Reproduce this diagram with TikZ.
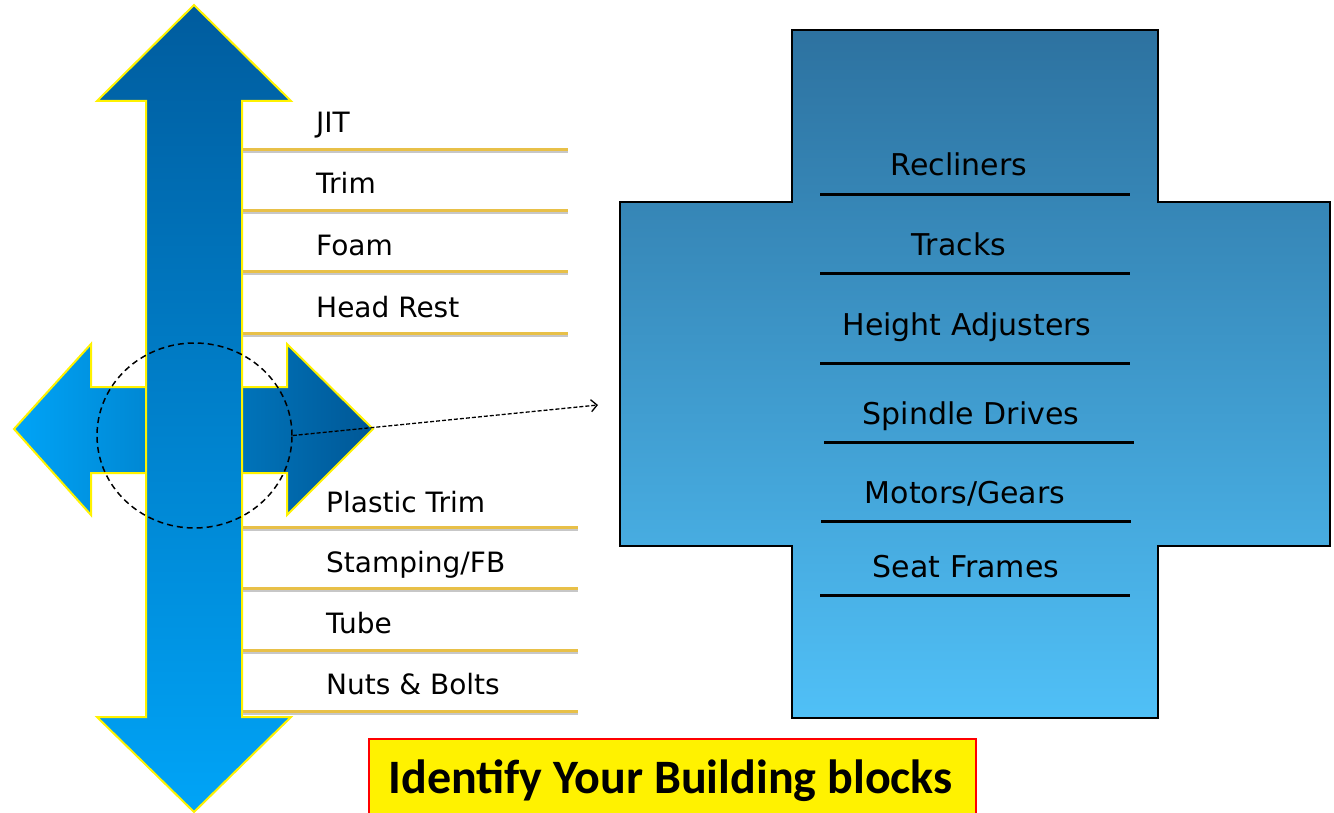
\documentclass[tikz,border=0pt]{standalone}
\usepackage{fontspec}
\setmainfont{DejaVu Sans}
\newfontfamily\titlefont{Carlito}
\usetikzlibrary{arrows.meta,shapes.geometric}

\definecolor{arrowdark}{RGB}{0,92,158}
\definecolor{arrowlight}{RGB}{0,164,247}
\definecolor{crossdark}{RGB}{45,114,160}
\definecolor{crosslight}{RGB}{80,192,247}
\definecolor{rulegold}{RGB}{232,192,72}

\tikzset{
  part/.style={anchor=base west, inner sep=0, font=\fontsize{28}{34}\selectfont},
  block/.style={anchor=base, inner sep=0, font=\fontsize{30}{36}\selectfont},
  goldrule/.style={line width=3pt, rulegold,
    preaction={draw=black!22, line width=3pt, transform canvas={yshift=-2pt}}},
  blackrule/.style={line width=3pt, black},
  zoomline/.style={line width=1.5pt, dash pattern=on 6pt off 4pt},
}

\begin{document}
\begin{tikzpicture}[x=1pt,y=-1pt]
\useasboundingbox (0,0) rectangle (1334,813);
\fill[white] (0,0) rectangle (1334,813);

% left/right arrow (behind)
\draw[left color=arrowlight, right color=arrowdark!95!black, draw=yellow, line width=2pt]
  (14,429) -- (91,344) -- (91,387) -- (287,387) -- (287,344) -- (373,429)
  -- (287,515) -- (287,473) -- (91,473) -- (91,515) -- cycle;
% up/down arrow
\draw[top color=arrowdark, bottom color=arrowlight, draw=yellow, line width=2pt]
  (194,5) -- (291,101) -- (242,101) -- (242,717) -- (291,717) -- (194,812)
  -- (97,717) -- (146,717) -- (146,101) -- (97,101) -- cycle;

\node[ellipse, draw, zoomline, minimum width=195pt, minimum height=185pt, inner sep=0] (focus) at (194.5,435.5) {};
\coordinate (zoomend) at (598,405);
\draw[zoomline, dash pattern=on 4pt off 2pt, line width=1.3pt, -{Straight Barb[length=6pt,width=12pt]}] (focus.east) -- (zoomend);

% supplier parts
\draw[goldrule] (243,150) -- (568,150);
\draw[goldrule] (243,211) -- (568,211);
\draw[goldrule] (243,272) -- (568,272);
\draw[goldrule] (243,333) -- (568,333);
\draw[goldrule] (243,527) -- (578,527);
\draw[goldrule] (243,588) -- (578,588);
\draw[goldrule] (243,650) -- (578,650);
\draw[goldrule] (243,711) -- (578,711);
\node[part] (jit) at (316,133) {JIT};
\node[part] (trim) at (316,194) {Trim};
\node[part] (foam) at (316,256) {Foam};
\node[part] (headrest) at (316,317) {Head Rest};
\node[part] (plastic) at (326,512) {Plastic Trim};
\node[part] (stamping) at (326,572) {Stamping/FB};
\node[part] (tube) at (326,633) {Tube};
\node[part] (nuts) at (326,694) {Nuts \& Bolts};

% building blocks
\draw[top color=crossdark, bottom color=crosslight, draw=black, line width=1.5pt]
  (792,30) -- (1158,30) -- (1158,202) -- (1330,202) -- (1330,546) -- (1158,546)
  -- (1158,718) -- (792,718) -- (792,546) -- (620,546) -- (620,202) -- (792,202) -- cycle;
\draw[blackrule] (820,195) -- (1130,195);
\draw[blackrule] (820,274) -- (1130,274);
\draw[blackrule] (820,363) -- (1130,363);
\draw[blackrule] (824,442) -- (1134,442);
\draw[blackrule] (821,521) -- (1131,521);
\draw[blackrule] (820,595) -- (1130,595);
\node[block] (recliners) at (959,176) {Recliners};
\node[block] (tracks) at (959,256) {Tracks};
\node[block] (height) at (967,335) {Height Adjusters};
\node[block] (spindle) at (971,424) {Spindle Drives};
\node[block] (motors) at (965,503) {Motors/Gears};
\node[block] (frames) at (966,577) {Seat Frames};

\draw[fill=yellow, draw=red, line width=1.5pt] (369,739) rectangle (976,818);
\node[anchor=base, inner sep=0, font=\titlefont\bfseries\fontsize{48}{56}\selectfont] (title) at (670.5,793) {Identify Your Building blocks};
\end{tikzpicture}
\end{document}
